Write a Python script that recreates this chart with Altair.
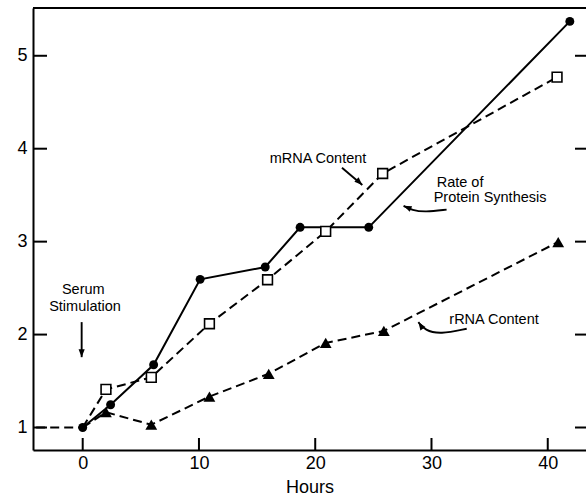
import altair as alt
import pandas as pd

# ---- data ----
protein_h = [0, 2.4, 6.1, 10.1, 15.7, 18.7, 24.6, 41.9]
protein_v = [1.0, 1.245, 1.675, 2.594, 2.727, 3.154, 3.154, 5.37]

mrna_h = [0, 2.0, 5.9, 10.9, 15.9, 20.9, 25.8, 40.8]
mrna_v = [1.0, 1.41, 1.54, 2.117, 2.59, 3.11, 3.733, 4.77]

rrna_h = [0, 2.0, 5.9, 10.9, 16.0, 20.9, 25.9, 40.9]
rrna_v = [1.0, 1.165, 1.03, 1.333, 1.578, 1.91, 2.039, 2.996]

base_h = [-4.0, 0]
base_v = [1.0, 1.0]

x_ticks = [0, 10, 20, 30, 40]
y_ticks = [1, 2, 3, 4, 5]

# annotations (data coordinates)
ann_text = ["mRNA Content", "Rate of", "Protein  Synthesis", "Serum", "Stimulation", "rRNA  Content"]
ann_h = [20.24, 32.46, 35.04, 0.05, 0.2, 35.38]
ann_v = [3.894, 3.632, 3.467, 2.476, 2.296, 2.153]

arrow_id = ["m", "m", "p", "p", "p", "p", "s", "s", "r", "r", "r", "r"]
arrow_h = [22.3, 24.05, 31.3, 29.45, 28.33, 27.6, -0.09, -0.09, 33.03, 30.74, 29.44, 28.87]
arrow_v = [3.795, 3.61, 3.345, 3.318, 3.338, 3.385, 2.134, 1.757, 2.063, 2.002, 2.045, 2.134]

head_h = [24.05, 27.6, -0.09, 28.87]
head_v = [3.61, 3.385, 1.757, 2.134]
head_angle = [133, 293, 180, 325]

XDOM = [-4.275, 43.29]
YDOM = [0.758, 5.514]
W, H = 553, 442
FONT = "Liberation Sans"

xs = alt.Scale(domain=XDOM, nice=False, zero=False)
ys = alt.Scale(domain=YDOM, nice=False, zero=False)

x_axis = alt.Axis(values=x_ticks, ticks=False, grid=False, domainColor="black",
                  domainWidth=2, labelFontSize=18, labelFont=FONT, labelColor="black",
                  labelPadding=4, titleFont=FONT, titleFontSize=18,
                  titleFontWeight="normal", titleColor="black", titlePadding=6)
y_axis = alt.Axis(values=y_ticks, ticks=False, grid=False, domainColor="black",
                  domainWidth=2, labelFontSize=18, labelFont=FONT, labelColor="black",
                  labelPadding=6)

X = alt.X("h:Q", scale=xs, axis=x_axis, title="Hours")
Y = alt.Y("v:Q", scale=ys, axis=y_axis, title=None)


def df(h, v):
    return pd.DataFrame({"h": h, "v": v, "i": list(range(len(h)))})


dash = [9, 5]

ytick_df = pd.DataFrame({"v": y_ticks})
xtick_df = pd.DataFrame({"h": x_ticks})

left_ticks = alt.Chart(ytick_df).mark_rule(color="black", strokeWidth=2).encode(
    y=Y, x=alt.value(0), x2=alt.value(14))
right_ticks = alt.Chart(ytick_df).mark_rule(color="black", strokeWidth=2).encode(
    y=Y, x=alt.value(W - 11), x2=alt.value(W))
bottom_ticks = alt.Chart(xtick_df).mark_rule(color="black", strokeWidth=2).encode(
    x=X, y=alt.value(H), y2=alt.value(H - 12))
top_line = alt.Chart(xtick_df).mark_rule(color="black", strokeWidth=2).encode(
    x=alt.value(0), x2=alt.value(W), y=alt.value(0))


def line(h, v, dashed):
    kw = dict(color="black", strokeWidth=2)
    if dashed:
        kw["strokeDash"] = dash
    return alt.Chart(df(h, v)).mark_line(**kw).encode(x=X, y=Y, order="i:Q")


baseline = line(base_h, base_v, True)
protein_line = line(protein_h, protein_v, False)
mrna_line = line(mrna_h, mrna_v, True)
rrna_line = line(rrna_h, rrna_v, True)

protein_pts = alt.Chart(df(protein_h, protein_v)).mark_point(
    shape="circle", filled=True, color="black", size=80, opacity=1).encode(x=X, y=Y)
mrna_pts = alt.Chart(df(mrna_h[1:], mrna_v[1:])).mark_point(
    shape="square", filled=True, fill="white", stroke="black", strokeWidth=1.6,
    size=95, opacity=1).encode(x=X, y=Y)
rrna_pts = alt.Chart(df(rrna_h[1:], rrna_v[1:])).mark_point(
    shape="triangle-up", filled=True, color="black", size=140, opacity=1).encode(x=X, y=Y)

ann = alt.Chart(pd.DataFrame({"t": ann_text, "h": ann_h, "v": ann_v})).mark_text(
    font=FONT, fontSize=14.5, color="black", align="center", baseline="middle").encode(
    x=X, y=Y, text="t:N")

arrows = alt.Chart(pd.DataFrame({"g": arrow_id, "h": arrow_h, "v": arrow_v,
                                 "i": list(range(len(arrow_h)))})).mark_line(
    color="black", strokeWidth=1.9, interpolate="basis").encode(
    x=X, y=Y, detail="g:N", order="i:Q")

heads = alt.Chart(pd.DataFrame({"h": head_h, "v": head_v, "a": head_angle})).mark_point(
    shape="M0,0L0.5,1.3L-0.5,1.3Z", filled=True, color="black", size=150, opacity=1).encode(
    x=X, y=Y, angle=alt.Angle("a:Q", scale=None))

chart = alt.layer(
    top_line, left_ticks, right_ticks, bottom_ticks,
    baseline, rrna_line, mrna_line, protein_line,
    rrna_pts, mrna_pts, protein_pts,
    arrows, heads, ann,
).properties(
    width=W, height=H,
    autosize=alt.AutoSizeParams(type="none"),
    padding={"left": 33, "top": 8, "right": 0, "bottom": 47},
    background="white",
).configure_view(stroke=None)

chart.save("out.html", embed_options={"renderer": "svg", "actions": False})
